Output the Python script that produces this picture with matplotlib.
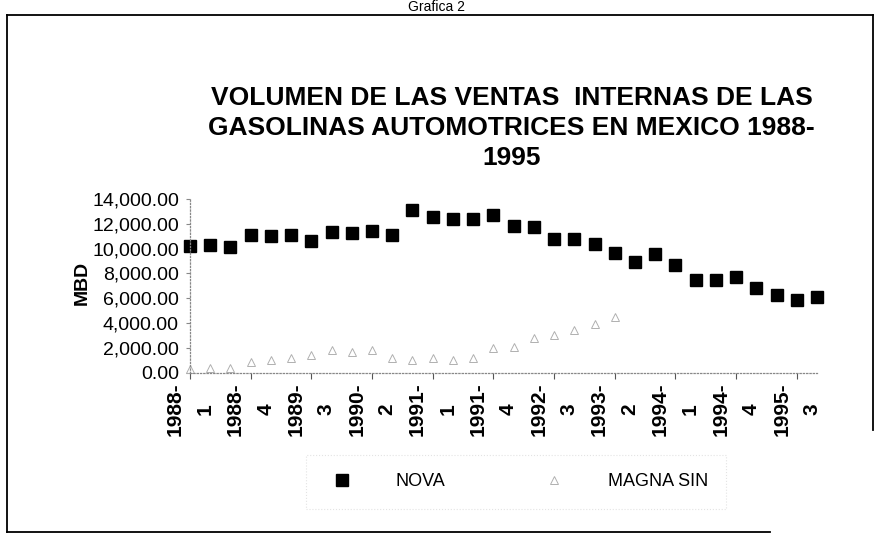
import matplotlib
matplotlib.use("Agg")
import matplotlib.pyplot as plt
import numpy as np
from matplotlib.lines import Line2D
from matplotlib.ticker import FuncFormatter

# Quarterly sales 1988-1 .. 1995-4 (MBD)
years = [1988, 1989, 1990, 1991, 1992, 1993, 1994, 1995]
quarters = [1, 2, 3, 4]
categories = [f"{y}-\n{q}" for y in years for q in quarters]

nova = [10200, 10300, 10120, 11120, 10980, 11060, 10610, 11350,
        11270, 11430, 11080, 13100, 12570, 12400, 12370, 12700,
        11810, 11760, 10740, 10810, 10330, 9650, 8920, 9550,
        8660, 7440, 7440, 7690, 6850, 6230, 5860, 6090]

magna_sin = [300, 350, 400, 830, 970, 1160, 1380, 1780,
             1620, 1780, 1150, 970, 1200, 970, 1200, 1940,
             2020, 2750, 2990, 3400, 3880, 4470, np.nan, np.nan,
             np.nan, np.nan, np.nan, np.nan, np.nan, np.nan, np.nan, np.nan]

title = ("VOLUMEN DE LAS VENTAS  INTERNAS DE LAS\n"
         "GASOLINAS AUTOMOTRICES EN MEXICO 1988-\n1995")

plt.rcParams["font.family"] = ["Liberation Sans", "DejaVu Sans"]

fig = plt.figure(figsize=(8.76, 5.35), dpi=100)
ax = fig.add_axes([190 / 876, 1 - 372.5 / 535, 627 / 876, 173.5 / 535])

x = np.arange(len(categories))
ax.plot(x, nova, linestyle="none", marker="s", markersize=8.5,
        color="black", label="NOVA", clip_on=False)
ax.plot(x, magna_sin, linestyle="none", marker="^", markersize=6,
        markerfacecolor="none", markeredgecolor="#b0b0b0",
        markeredgewidth=0.7, label="MAGNA SIN", clip_on=False)

ax.set_xlim(0, len(categories) - 1)
ax.set_ylim(0, 14000)
ax.set_yticks(np.arange(0, 14001, 2000))
ax.yaxis.set_major_formatter(FuncFormatter(lambda v, p: f"{v:,.2f}"))
ax.tick_params(axis="y", labelsize=14, length=3, pad=5, color="#888888")

ax.set_xticks(x[::3])
ax.set_xticklabels(categories[::3], rotation=90, fontsize=15,
                   fontweight="bold", linespacing=1.75, ha="center",
                   va="top", multialignment="center")
ax.tick_params(axis="x", length=4, pad=3, color="#555555")

for s in ["top", "right"]:
    ax.spines[s].set_visible(False)
for s in ["left", "bottom"]:
    ax.spines[s].set_color("#888888")
    ax.spines[s].set_linestyle(":")
    ax.spines[s].set_linewidth(0.9)

ax.set_ylabel("MBD", fontsize=14, fontweight="bold")
ax.yaxis.set_label_coords(-0.158, 0.516)

leg = fig.legend(loc="center", bbox_to_anchor=(0.589, 1 - 482 / 535),
                 ncol=2, fontsize=13, frameon=True, handlelength=2,
                 handletextpad=2, columnspacing=5, borderpad=1.0,
                 fancybox=False)
leg.get_frame().set_edgecolor("#dddddd")
leg.get_frame().set_linestyle(":")
leg.get_frame().set_linewidth(0.8)

fig.text(511.5 / 876, 1 - 128 / 535, title, ha="center", va="center",
         fontsize=19, fontweight="bold", linespacing=1.3)
fig.text(437 / 876, 1.0, "Grafica 2", ha="center", va="top",
         fontsize=10)

# page border of the scanned sheet
bx0, bx1 = 7 / 876, 873 / 876
by0, by1 = 1 - 532 / 535, 1 - 15 / 535
fig.add_artist(Line2D([bx0, bx1], [by1, by1], color="black", lw=1.3))
fig.add_artist(Line2D([bx0, bx0], [by0, by1], color="black", lw=1.3))
fig.add_artist(Line2D([bx0, 770 / 876], [by0, by0], color="black", lw=1.3))
fig.add_artist(Line2D([bx1, bx1], [1 - 430 / 535, by1], color="black", lw=1.3))

fig.savefig("out.png", dpi=100)
plt.close(fig)
